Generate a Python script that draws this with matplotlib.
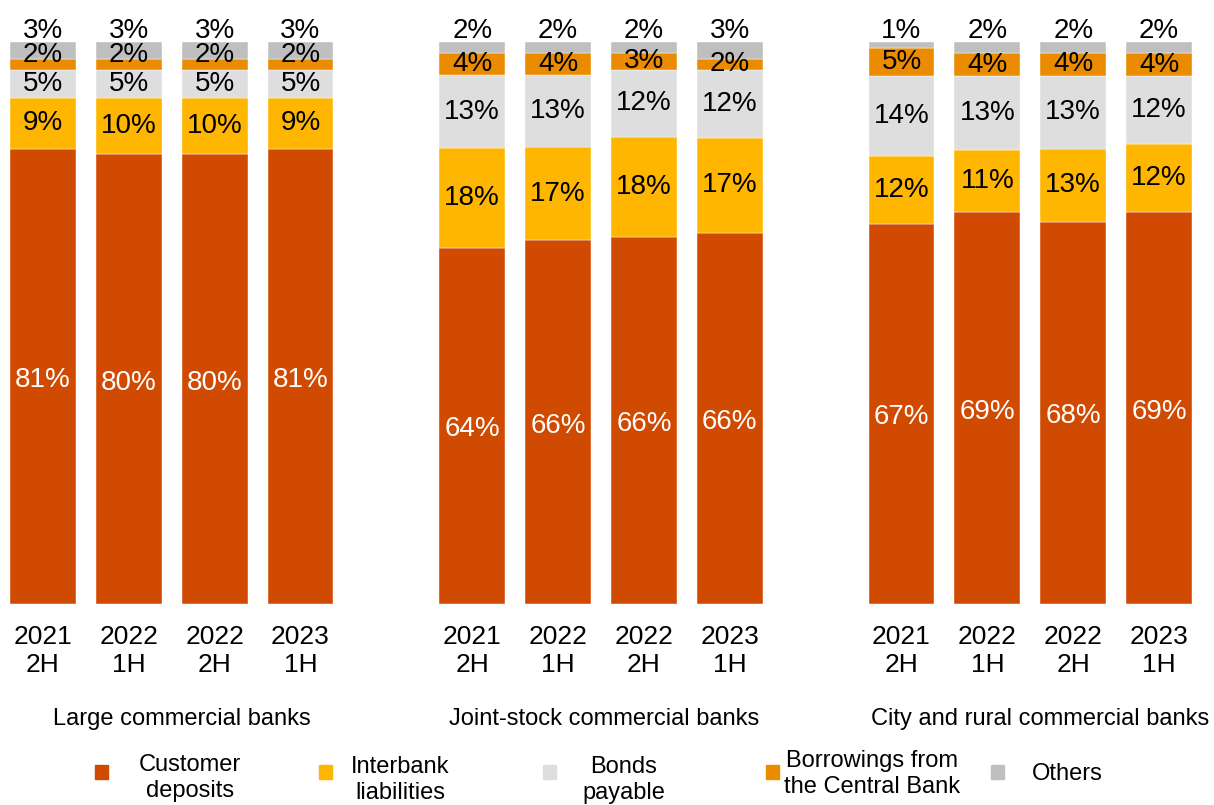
import matplotlib
matplotlib.use("Agg")
import matplotlib.pyplot as plt
import matplotlib.transforms as mtransforms
from matplotlib.patches import Rectangle
import numpy as np

plt.rcParams['font.family'] = ['Liberation Sans', 'DejaVu Sans']

# funding structure by bank type, share of total liabilities (%)
periods = ["2021\n2H", "2022\n1H", "2022\n2H", "2023\n1H"]
groups = ["Large commercial banks", "Joint-stock commercial banks", "City and rural commercial banks"]
customer_deposits = [81, 80, 80, 81, 64, 66, 66, 66, 67, 69, 68, 69]
interbank = [9, 10, 10, 9, 18, 17, 18, 17, 12, 11, 13, 12]
bonds = [5, 5, 5, 5, 13, 13, 12, 12, 14, 13, 13, 12]
borrowings = [2, 2, 2, 2, 4, 4, 3, 2, 5, 4, 4, 4]
others = [3, 3, 3, 3, 2, 2, 2, 3, 1, 2, 2, 2]

series_names = ["Customer\ndeposits", "Interbank\nliabilities", "Bonds\npayable",
                "Borrowings from\nthe Central Bank", "Others"]
colors = ["#D04A02", "#FFB600", "#DEDEDE", "#EB8C00", "#BFBFBF"]

series = np.array([customer_deposits, interbank, bonds, borrowings, others], dtype=float)
shares = series / series.sum(axis=0) * 100  # 100% stacked

# bar slots: four periods per group, one empty slot between groups
xpos = np.array([0, 1, 2, 3, 5, 6, 7, 8, 10, 11, 12, 13])

fig = plt.figure(figsize=(12.14, 8.05), dpi=100)
ax = fig.add_axes([0, 1 - 604 / 805, 1202 / 1214, 562 / 805])

bottom = np.zeros(len(xpos))
centers = []
for k in range(len(series)):
    ax.bar(xpos, shares[k], bottom=bottom, width=0.767, color=colors[k],
           edgecolor="white", linewidth=0.3)
    centers.append(bottom + shares[k] / 2)
    bottom = bottom + shares[k]

fs = 20
for i, x in enumerate(xpos):
    # customer deposits, interbank, bonds: centred in segment
    ax.text(x, centers[0][i] - 0.6, f"{series[0][i]:.0f}%", ha="center", va="center",
            fontsize=fs, color="white")
    ax.text(x, centers[1][i], f"{series[1][i]:.0f}%", ha="center", va="center",
            fontsize=fs, color="black")
    ax.text(x, centers[2][i], f"{series[2][i]:.0f}%", ha="center", va="center",
            fontsize=fs, color="black")
    # thin segments: nudge the label up to keep clear of the one below
    yb = centers[3][i]
    if yb - centers[2][i] < 5:
        yb = centers[2][i] + 5.2
    ax.text(x, yb, f"{series[3][i]:.0f}%", ha="center", va="center",
            fontsize=fs, color="black")
    ax.text(x, 102, f"{series[4][i]:.0f}%", ha="center", va="center",
            fontsize=fs, color="black", clip_on=False)

ax.set_xlim(-0.5, 13.5)
ax.set_ylim(0, 100)
ax.set_xticks(xpos, periods * 3)
ax.tick_params(axis="x", length=0, pad=15, labelsize=19)
ax.set_yticks([])
for s in ax.spines.values():
    s.set_visible(False)

# group captions under each block of bars
group_x = [182, 604, 1040]
for g, name in enumerate(groups):
    fig.text(group_x[g] / 1214, 1 - 719 / 805, name,
             ha="center", va="center", fontsize=17)

# legend keys and labels laid out along the bottom
key_x = [95, 319, 543, 766, 991]
label_x = [190, 400, 624, 872, 1067]
label_y = [778, 780, 780, 774, 774]
for k in range(len(series_names)):
    fig.patches.append(Rectangle((key_x[k] / 1214, 1 - 779 / 805), 13 / 1214, 14 / 805,
                                 transform=fig.transFigure, color=colors[k]))
    fig.text(label_x[k] / 1214, 1 - label_y[k] / 805, series_names[k], ha="center",
             va="center", multialignment="center", fontsize=17)

fig.savefig("out.png", dpi=100)
